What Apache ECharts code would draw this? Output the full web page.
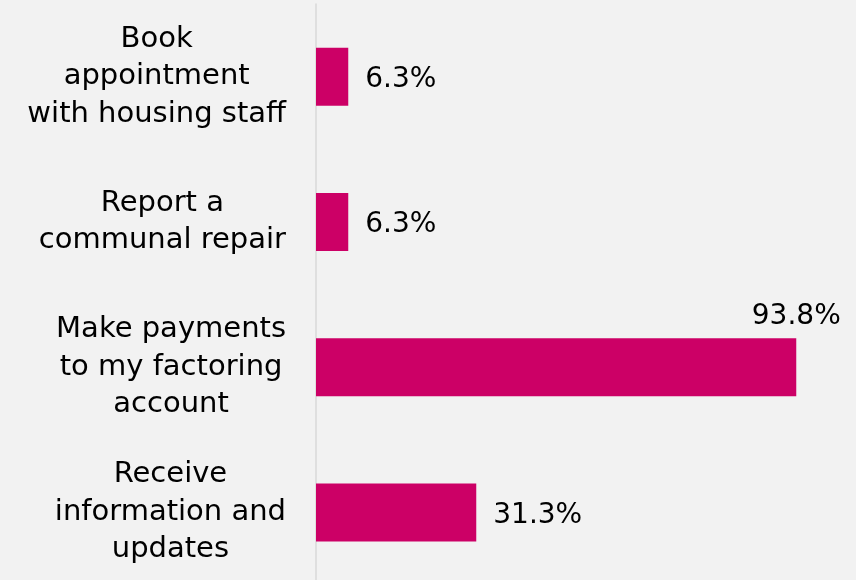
<!DOCTYPE html>
<html>
<head>
<meta charset="utf-8">
<script src="https://cdn.jsdelivr.net/npm/echarts@6/dist/echarts.min.js"></script>
<style>
  html, body { margin: 0; padding: 0; background: #f2f2f2; overflow: hidden; }
  /* the plot area runs a few pixels past the bottom of the 580px view */
  #chart { width: 856px; height: 590px; }
</style>
</head>
<body>
<div id="chart"></div>
<script>
// Survey options, listed bottom-to-top as the category axis draws them
const categories = [
  'Receive\ninformation and\nupdates',
  'Make payments\nto my factoring\naccount',
  'Report a\ncommunal repair',
  'Book\nappointment\nwith housing staff'
];
const percentages = [31.3, 93.8, 6.3, 6.3];

const BAR_COLOR = '#cc0066';
const FONT = '"DejaVu Sans", sans-serif';

// Long bars carry their value above the bar end instead of beside it
const seriesData = percentages.map(v => v > 80
  ? { value: v, label: { position: ['100%', -10], align: 'center', verticalAlign: 'bottom' } }
  : v);

const chart = echarts.init(document.getElementById('chart'));
chart.setOption({
  backgroundColor: '#f2f2f2',
  animation: false,
  grid: { left: 316, width: 512, top: 4, height: 581, containLabel: false },
  xAxis: {
    type: 'value', min: 0, max: 100, show: false
  },
  yAxis: {
    type: 'category',
    data: categories,
    axisLine: { show: true, lineStyle: { color: '#d9d9d9', width: 1.5 } },
    axisTick: { show: false },
    splitLine: { show: false },
    axisLabel: {
      margin: 30,
      align: 'right',
      formatter: s => s.split('\n').map(l => '{c|' + l + '}').join('\n'),
      rich: {
        c: { align: 'center', fontFamily: FONT, fontSize: 29, lineHeight: 37.5, color: '#000' }
      }
    }
  },
  series: [{
    type: 'bar',
    data: seriesData,
    barWidth: 58,
    itemStyle: { color: BAR_COLOR },
    label: {
      show: true,
      position: 'right',
      distance: 17,
      offset: [0, 3],
      formatter: p => p.value.toFixed(1) + '%',
      fontFamily: FONT,
      fontSize: 28,
      color: '#000'
    }
  }]
});
</script>
</body>
</html>
